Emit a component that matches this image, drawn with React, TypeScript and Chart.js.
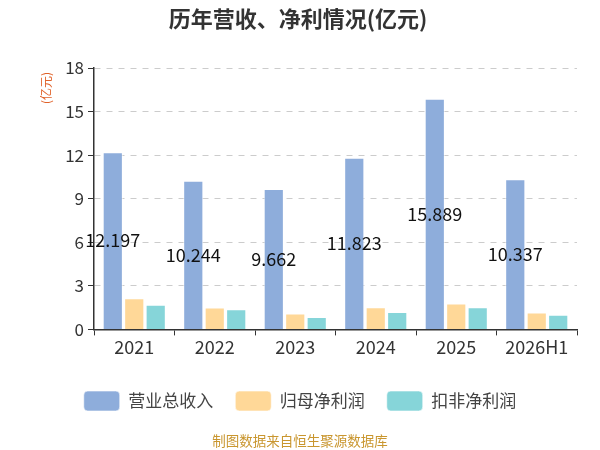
import React, { useEffect, useRef } from "react";
import { Chart, registerables } from "chart.js";

Chart.register(...registerables);

const years = ["2021", "2022", "2023", "2024", "2025", "2026H1"];
const revenue = [12.197, 10.244, 9.662, 11.823, 15.889, 10.337];
const parentProfit = [2.14, 1.5, 1.1, 1.52, 1.79, 1.17];
const deductedProfit = [1.7, 1.38, 0.85, 1.19, 1.52, 1.01];
const yTicks = [0, 3, 6, 9, 12, 15, 18];

const FONT = "'Noto Sans CJK SC', 'Noto Sans', sans-serif";

const textPlugin = {
  id: "texts",
  afterDatasetsDraw(chart: any) {
    const ctx = chart.ctx;
    const meta = chart.getDatasetMeta(0);
    ctx.save();
    ctx.fillStyle = "#111";
    ctx.font = `18px ${FONT}`;
    ctx.textAlign = "center";
    ctx.textBaseline = "middle";
    meta.data.forEach((bar: any, i: number) => {
      ctx.fillText(String(revenue[i]), bar.x, (bar.y + bar.base) / 2);
    });
    ctx.restore();
  },
  afterDraw(chart: any) {
    const ctx = chart.ctx;
    ctx.save();
    ctx.textAlign = "center";
    ctx.textBaseline = "middle";
    ctx.fillStyle = "#333";
    ctx.font = `bold 22px ${FONT}`;
    ctx.fillText("历年营收、净利情况(亿元)", 298, 19);
    ctx.fillStyle = "#c9962f";
    ctx.font = `13.5px ${FONT}`;
    ctx.fillText("制图数据来自恒生聚源数据库", 300, 441);
    ctx.translate(46, 88);
    ctx.rotate(-Math.PI / 2);
    ctx.fillStyle = "#e0622a";
    ctx.font = `12px ${FONT}`;
    ctx.fillText("(亿元)", 0, 0);
    ctx.restore();
  },
};

export default function App() {
  const canvasRef = useRef<HTMLCanvasElement | null>(null);

  useEffect(() => {
    document.body.style.margin = "0";
    const canvas = canvasRef.current;
    if (!canvas) return;

    const chart = new Chart(canvas, {
      type: "bar",
      data: {
        labels: years,
        datasets: [
          { label: "营业总收入", data: revenue, backgroundColor: "#8eaddb" },
          { label: "归母净利润", data: parentProfit, backgroundColor: "#ffd898" },
          { label: "扣非净利润", data: deductedProfit, backgroundColor: "#86d5d9" },
        ].map((d) => ({
          ...d,
          borderColor: "rgba(255,255,255,0.6)",
          borderWidth: 1,
          categoryPercentage: 0.8,
          barPercentage: 0.94,
        })),
      },
      options: {
        animation: false,
        responsive: false,
        layout: { padding: { top: 68, left: 23, right: 23, bottom: 29 } },
        plugins: {
          title: { display: false },
          tooltip: { enabled: false },
          legend: {
            position: "bottom",
            labels: {
              boxWidth: 36,
              boxHeight: 20,
              useBorderRadius: true,
              borderRadius: 4,
              padding: 22,
              color: "#444",
              font: { size: 17, family: FONT },
            },
          },
        },
        scales: {
          x: {
            afterFit: (axis: any) => {
              axis.height += 10;
            },
            grid: {
              offset: true,
              drawOnChartArea: false,
              tickLength: 6,
              tickColor: "#333",
            },
            border: { color: "#333", width: 1.5 },
            ticks: { color: "#333", font: { size: 18, family: FONT }, padding: 1 },
          },
          y: {
            min: 0,
            max: 18,
            afterFit: (axis: any) => {
              axis.width = 71;
            },
            afterBuildTicks: (axis: any) => {
              axis.ticks = yTicks.map((v) => ({ value: v }));
            },
            grid: {
              color: "#cccccc",
              tickColor: "#333",
              tickLength: 6,
              tickBorderDash: [],
            },
            border: { color: "#333", width: 1.5, dash: [6, 6] },
            ticks: { color: "#333", font: { size: 17, family: FONT }, padding: 4 },
          },
        },
      },
      plugins: [textPlugin],
    });

    return () => chart.destroy();
  }, []);

  return (
    <div style={{ width: 600, height: 450 }}>
      <canvas ref={canvasRef} width={600} height={450} />
    </div>
  );
}
